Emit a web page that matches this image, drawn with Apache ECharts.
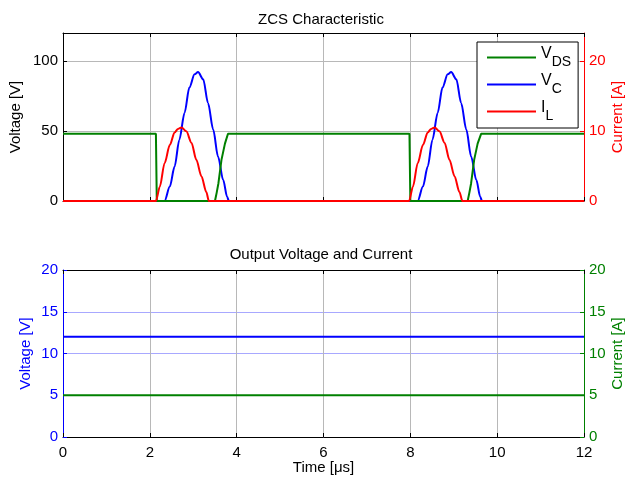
<!DOCTYPE html>
<html>
<head>
<meta charset="utf-8">
<script src="https://cdn.jsdelivr.net/npm/echarts@6/dist/echarts.min.js"></script>
<style>
  html, body { margin: 0; padding: 0; background: #ffffff; }
  #chart { width: 626px; height: 478px; }
</style>
</head>
<body>
<div id="chart"></div>
<script>
// ZCS switching waveforms: [time (µs), value]
const vdsPoints = [
  [0, 48], [2.14, 48], [2.16, 0], [3.50, 0], [3.54, 6], [3.58, 12.7], [3.65, 29.4],
  [3.73, 41], [3.80, 48], [7.98, 48], [8.00, 0], [9.32, 0], [9.36, 6], [9.40, 12.7],
  [9.47, 29.4], [9.55, 41], [9.63, 48], [12, 48]
];
const vcPoints = [
  [0, 0], [2.34, 0], [2.46, 10.3], [2.57, 24.6], [2.68, 43.8], [2.80, 63], [2.91, 81],
  [3.03, 90.5], [3.11, 92.1], [3.23, 86.9], [3.34, 70], [3.46, 51], [3.57, 31.8],
  [3.69, 15], [3.78, 3], [3.82, 0],
  [8.17, 0], [8.29, 10.3], [8.40, 24.6], [8.51, 43.8], [8.63, 63], [8.74, 81],
  [8.86, 90.5], [8.94, 92.1], [9.06, 86.9], [9.17, 70], [9.29, 51], [9.40, 31.8],
  [9.52, 15], [9.61, 3], [9.65, 0], [12, 0]
];
const ilPoints = [
  [0, 0], [2.14, 0], [2.23, 2.05], [2.34, 5.4], [2.46, 8.0], [2.57, 9.8], [2.65, 10.3],
  [2.73, 10.5], [2.84, 9.95], [2.96, 8.3], [3.07, 5.9], [3.19, 3.5], [3.30, 1.3], [3.36, 0],
  [7.97, 0], [8.06, 2.05], [8.17, 5.4], [8.29, 8.0], [8.40, 9.8], [8.48, 10.3],
  [8.56, 10.5], [8.67, 9.95], [8.79, 8.3], [8.90, 5.9], [9.02, 3.5], [9.13, 1.3],
  [9.20, 0], [12, 0]
];
// Output side
const outVoltagePoints = [[0, 12], [12, 12]];
const outCurrentPoints = [[0, 5], [12, 5]];

const legendNames = ['VDS', 'VC', 'IL'];
const legendLabels = {
  VDS: '{v|V}{s|DS}',
  VC: '{v|V}{s|C}',
  IL: '{v|I}{s|L}'
};

const FONT = 'Arial, "Liberation Sans", sans-serif';
const GREEN = '#008000', BLUE = '#0000ff', RED = '#ff0000';
const GRID_GRAY = '#b8b8b8';

function timeAxis(gridIndex, position, showLabels, showSplit, extra) {
  return Object.assign({
    type: 'value', gridIndex: gridIndex, position: position,
    min: 0, max: 12, interval: 2,
    nameMoveOverlap: false,
    axisLine: { show: true, onZero: false, lineStyle: { color: '#000', width: 1 } },
    axisTick: { show: true, inside: true, length: 4, lineStyle: { color: '#000' } },
    axisLabel: { show: showLabels, color: '#000', fontSize: 15, fontFamily: FONT, margin: 8 },
    splitLine: { show: showSplit, lineStyle: { color: GRID_GRAY, width: 1 } }
  }, extra || {});
}

function valueAxis(gridIndex, position, max, interval, color, name, splitColor, nameGap) {
  return {
    type: 'value', gridIndex: gridIndex, position: position,
    min: 0, max: max, interval: interval,
    name: name, nameLocation: 'middle', nameGap: nameGap, nameMoveOverlap: false,
    nameTextStyle: { color: color, fontSize: 15, fontFamily: FONT },
    axisLine: { show: true, onZero: false, lineStyle: { color: color, width: 1 } },
    axisTick: { show: true, inside: true, length: 4, lineStyle: { color: color } },
    axisLabel: { color: color, fontSize: 15, fontFamily: FONT, margin: 5, showMaxLabel: max % interval === 0 },
    splitLine: { show: !!splitColor, lineStyle: { color: splitColor || '#ccc', width: 1 } }
  };
}

const chart = echarts.init(document.getElementById('chart'), null, { renderer: 'canvas' });
chart.setOption({
  animation: false,
  backgroundColor: '#ffffff',
  title: [
    { text: 'ZCS Characteristic', left: 321, top: 12, textAlign: 'center', padding: 0,
      textStyle: { fontSize: 15, fontWeight: 'normal', color: '#000', fontFamily: FONT } },
    { text: 'Output Voltage and Current', left: 321, top: 247, textAlign: 'center', padding: 0,
      textStyle: { fontSize: 15, fontWeight: 'normal', color: '#000', fontFamily: FONT } }
  ],
  grid: [
    { left: 63, top: 33, width: 521, height: 168, containLabel: false, outerBoundsMode: 'none' },
    { left: 63, top: 270, width: 521, height: 167, containLabel: false, outerBoundsMode: 'none' }
  ],
  legend: {
    data: legendNames,
    orient: 'vertical',
    left: 477, top: 42,
    padding: [4, 7, 5, 10],
    itemGap: 4,
    itemWidth: 49, itemHeight: 2,
    icon: 'rect',
    backgroundColor: '#ffffff',
    borderColor: '#000', borderWidth: 1,
    formatter: function (n) { return legendLabels[n]; },
    textStyle: {
      color: '#000', fontFamily: FONT,
      rich: {
        v: { fontSize: 16, fontFamily: FONT, color: '#000', verticalAlign: 'top', lineHeight: 17 },
        s: { fontSize: 14, fontFamily: FONT, color: '#000', verticalAlign: 'bottom', lineHeight: 23 }
      }
    }
  },
  xAxis: [
    timeAxis(0, 'bottom', false, true),
    timeAxis(1, 'bottom', true, true, {
      name: 'Time [\u03bcs]', nameLocation: 'middle', nameGap: 23,
      nameTextStyle: { color: '#000', fontSize: 15, fontFamily: FONT }
    }),
    timeAxis(0, 'top', false, false),
    timeAxis(1, 'top', false, false)
  ],
  yAxis: [
    valueAxis(0, 'left', 120, 50, '#000', 'Voltage [V]', GRID_GRAY, 40),
    valueAxis(0, 'right', 24, 10, RED, 'Current [A]', null, 26),
    valueAxis(1, 'left', 20, 5, BLUE, 'Voltage [V]', '#a8a8ff', 30),
    valueAxis(1, 'right', 20, 5, GREEN, 'Current [A]', null, 26)
  ],
  series: [
    { name: 'VDS', type: 'line', xAxisIndex: 0, yAxisIndex: 0, data: vdsPoints,
      showSymbol: false, color: GREEN, lineStyle: { color: GREEN, width: 2 }, z: 3 },
    { name: 'VC', type: 'line', xAxisIndex: 0, yAxisIndex: 0, data: vcPoints,
      showSymbol: false, smooth: 0.3, smoothMonotone: 'x', color: BLUE,
      lineStyle: { color: BLUE, width: 2 }, z: 2 },
    { name: 'IL', type: 'line', xAxisIndex: 0, yAxisIndex: 1, data: ilPoints,
      showSymbol: false, smooth: 0.3, smoothMonotone: 'x', color: RED,
      lineStyle: { color: RED, width: 2 }, z: 4 },
    { name: 'Output voltage', type: 'line', xAxisIndex: 1, yAxisIndex: 2, data: outVoltagePoints,
      showSymbol: false, color: BLUE, lineStyle: { color: BLUE, width: 2 } },
    { name: 'Output current', type: 'line', xAxisIndex: 1, yAxisIndex: 3, data: outCurrentPoints,
      showSymbol: false, color: GREEN, lineStyle: { color: GREEN, width: 2 } }
  ]
});
</script>
</body>
</html>
